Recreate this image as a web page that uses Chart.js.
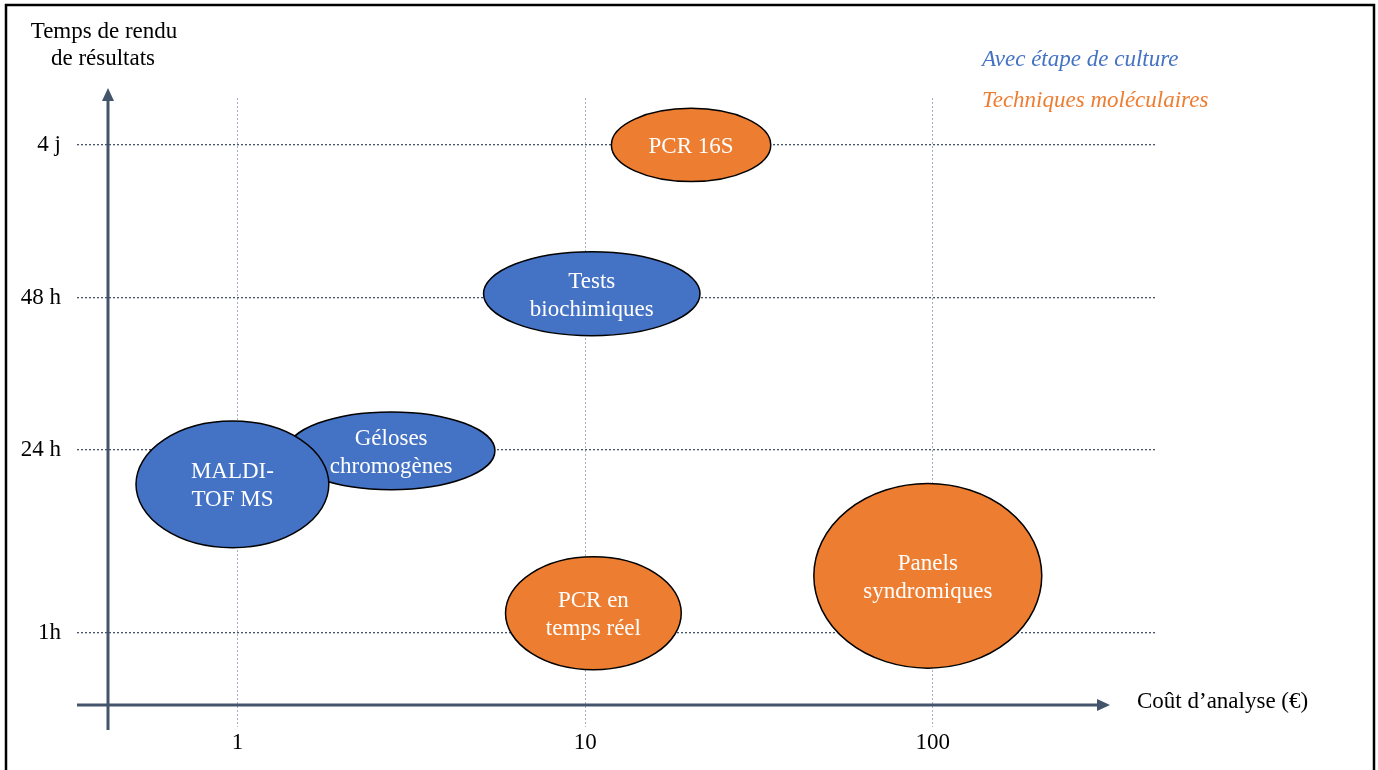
<!DOCTYPE html>
<html>
<head>
<meta charset="utf-8">
<script src="https://cdn.jsdelivr.net/npm/chart.js@4.4.1/dist/chart.umd.min.js"></script>
<style>
  html, body { margin: 0; padding: 0; background: #fff; }
  #wrap { width: 1378px; height: 770px; }
</style>
</head>
<body>
<div id="wrap"><canvas id="chart" width="1378" height="770"></canvas></div>
<script>
// techniques, their group and the cost / time range each ellipse covers
const techniques = ['PCR 16S', 'Tests biochimiques', 'Géloses chromogènes', 'MALDI-TOF MS', 'PCR en temps réel', 'Panels syndromiques'];
const techLines = [['PCR 16S'], ['Tests', 'biochimiques'], ['Géloses', 'chromogènes'], ['MALDI-', 'TOF MS'], ['PCR en', 'temps réel'], ['Panels', 'syndromiques']];
const groups = ['mol', 'culture', 'culture', 'culture', 'mol', 'mol'];
const costLow = [11.9, 5.1, 1.39, 0.51, 5.9, 45.5];
const costHigh = [34.2, 21.4, 5.5, 1.83, 18.9, 206];
const timeLow = [2.96, 1.95, 0.94, 0.56, -0.24, -0.23];
const timeHigh = [3.44, 2.5, 1.45, 1.39, 0.5, 0.98];

const xTickValues = [1, 10, 100];
const yTickValues = [0, 1.2, 2.2, 3.2];
const yTickLabels = ['1h', '24 h', '48 h', '4 j'];

const groupNames = { culture: 'Avec étape de culture', mol: 'Techniques moléculaires' };
const groupColors = { culture: '#4472C4', mol: '#ED7D31' };

const SERIF = '"Liberation Serif", "Times New Roman", serif';
const AXIS = '#44546A';

function centres(g) {
  const out = [];
  techniques.forEach((t, i) => {
    if (groups[i] === g) out.push({ x: Math.sqrt(costLow[i] * costHigh[i]), y: (timeLow[i] + timeHigh[i]) / 2 });
  });
  return out;
}

const decor = {
  id: 'decor',
  beforeDatasetsDraw(chart) {
    const ctx = chart.ctx, a = chart.chartArea;
    ctx.save();
    ctx.strokeStyle = AXIS;
    ctx.fillStyle = AXIS;
    ctx.lineWidth = 3;
    // x axis arrow
    const ay = a.bottom - 22, ax2 = a.right - 47;
    ctx.beginPath(); ctx.moveTo(a.left, ay); ctx.lineTo(ax2 - 10, ay); ctx.stroke();
    ctx.beginPath(); ctx.moveTo(ax2, ay); ctx.lineTo(ax2 - 13, ay - 6); ctx.lineTo(ax2 - 13, ay + 6); ctx.closePath(); ctx.fill();
    // y axis arrow
    const vx = a.left + 31, vy2 = a.top - 10;
    ctx.beginPath(); ctx.moveTo(vx, a.bottom + 3); ctx.lineTo(vx, vy2 + 10); ctx.stroke();
    ctx.beginPath(); ctx.moveTo(vx, vy2); ctx.lineTo(vx - 6, vy2 + 13); ctx.lineTo(vx + 6, vy2 + 13); ctx.closePath(); ctx.fill();
    ctx.restore();
  },
  afterDatasetsDraw(chart) {
    const ctx = chart.ctx, xs = chart.scales.x, ys = chart.scales.y;
    ctx.save();
    techniques.forEach((t, i) => {
      const x1 = xs.getPixelForValue(costLow[i]), x2 = xs.getPixelForValue(costHigh[i]);
      const y1 = ys.getPixelForValue(timeHigh[i]), y2 = ys.getPixelForValue(timeLow[i]);
      const cx = (x1 + x2) / 2, cy = (y1 + y2) / 2;
      ctx.beginPath();
      ctx.ellipse(cx, cy, (x2 - x1) / 2, (y2 - y1) / 2, 0, 0, Math.PI * 2);
      ctx.fillStyle = groupColors[groups[i]];
      ctx.fill();
      ctx.lineWidth = 1.5;
      ctx.strokeStyle = '#000';
      ctx.stroke();
      ctx.fillStyle = '#fff';
      ctx.font = '23px ' + SERIF;
      ctx.textAlign = 'center';
      ctx.textBaseline = 'middle';
      const lines = techLines[i];
      lines.forEach((l, k) => ctx.fillText(l, cx, cy + 2 + (k - (lines.length - 1) / 2) * 28));
    });

    // titles and legend
    ctx.fillStyle = '#000';
    ctx.font = '23px ' + SERIF;
    ctx.textAlign = 'center';
    ctx.fillText('Temps de rendu', 104, 32);
    ctx.fillText('de résultats', 103, 59);
    ctx.textAlign = 'left';
    ctx.fillText('Coût d’analyse (€)', 1137, 702);
    ctx.font = 'italic 23px ' + SERIF;
    ctx.fillStyle = groupColors.culture;
    ctx.fillText(groupNames.culture, 982, 60);
    ctx.fillStyle = groupColors.mol;
    ctx.fillText(groupNames.mol, 982, 101);

    // frame
    ctx.strokeStyle = '#000';
    ctx.lineWidth = 2.5;
    ctx.beginPath();
    ctx.moveTo(6, 780); ctx.lineTo(6, 5); ctx.lineTo(1374, 5); ctx.lineTo(1374, 780);
    ctx.stroke();
    ctx.restore();
  }
};

new Chart(document.getElementById('chart'), {
  type: 'scatter',
  data: {
    datasets: ['culture', 'mol'].map(g => ({
      label: groupNames[g],
      data: centres(g),
      pointRadius: 0,
      backgroundColor: groupColors[g]
    }))
  },
  options: {
    responsive: false,
    animation: false,
    layout: { padding: { top: 98, right: 221, bottom: 0, left: 0 } },
    plugins: { legend: { display: false }, tooltip: { enabled: false } },
    scales: {
      x: {
        type: 'logarithmic',
        bounds: 'data',
        min: 0.345,
        max: 442,
        afterBuildTicks: s => { s.ticks = xTickValues.map(v => ({ value: v })); },
        afterFit: s => { s.height = 43; },
        ticks: {
          padding: 2,
          color: '#000',
          font: { family: SERIF, size: 23 },
          callback: v => String(v),
          maxRotation: 0
        },
        grid: { color: '#A4AEC4', lineWidth: 1, drawTicks: false },
        border: { display: false, dash: [2, 2] }
      },
      y: {
        type: 'linear',
        bounds: 'data',
        min: -0.616,
        max: 3.508,
        afterBuildTicks: s => { s.ticks = yTickValues.map(v => ({ value: v })); },
        afterFit: s => { s.width = 77; },
        ticks: {
          padding: 16,
          color: '#000',
          font: { family: SERIF, size: 23 },
          callback: v => yTickLabels[yTickValues.indexOf(v)]
        },
        grid: { color: AXIS, lineWidth: 1.3, drawTicks: false },
        border: { display: false, dash: [2, 2] }
      }
    }
  },
  plugins: [decor]
});
</script>
</body>
</html>
